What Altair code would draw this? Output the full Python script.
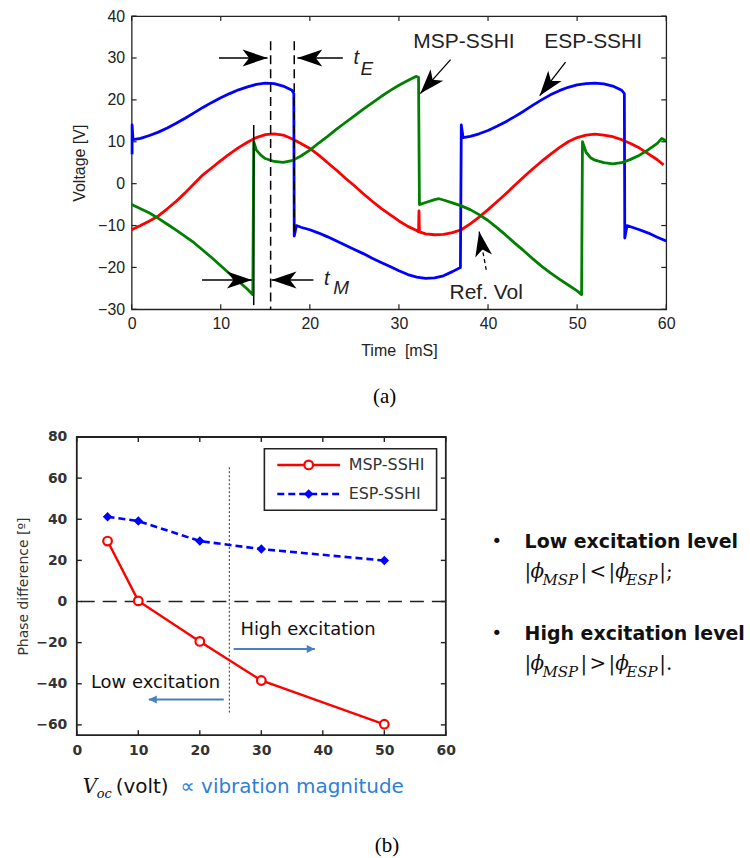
import math
import altair as alt
import pandas as pd

# ---------------- Panel (a): voltage waveforms ----------------
ESP_T = [0.05, 0.05, 0.15, 1, 2, 3, 4, 5, 6, 7, 8, 9, 10, 11, 12, 13, 14, 15, 16, 17, 18, 18.2,
         18.25, 18.5, 19, 20, 21, 22, 23, 24, 25, 26, 27, 28, 29, 30, 31, 32, 33, 34, 35, 36, 36.9,
         37.0, 37.2, 38, 39, 40, 41, 42, 43, 44, 45, 46, 47, 48, 49, 50, 51, 52, 53, 54, 55, 55.3,
         55.35, 55.6, 56, 57, 58, 59, 60]
ESP_V = [7, 14, 10.5, 10.8, 11.5, 12.3, 13.3, 14.4, 15.6, 16.9, 18.2, 19.4, 20.5, 21.5, 22.4, 23.1, 23.7, 24, 23.9, 23.3, 22.3, 21.5,
         -12.5, -10, -10.4, -11, -11.8, -12.7, -13.7, -14.7, -15.7, -16.7, -17.8, -18.8, -19.8, -20.8, -21.7, -22.3, -22.6, -22.5, -22, -21, -20,
         14, 11, 11.3, 11.9, 12.7, 13.7, 14.8, 16, 17.3, 18.7, 20, 21.2, 22.2, 23, 23.6, 23.9, 24, 23.8, 23.3, 22.3, 21.5,
         -13, -10, -10.3, -11, -11.8, -12.8, -13.7]

REF_T = [0, 1, 2, 3, 4, 5, 6, 7, 8, 9, 10, 11, 12, 13, 14, 15, 16, 17, 18, 19, 20, 21, 22, 23, 24, 25,
         26, 27, 28, 29, 30, 31, 32, 32.2, 32.25, 32.3, 33, 34, 35, 36, 37, 38, 39, 40, 41, 42, 43, 44,
         45, 46, 47, 48, 49, 50, 51, 52, 53, 54, 55, 56, 57, 58, 59, 59.7]
REF_V = [-11, -10, -8.9, -7.7, -6, -4.2, -2.2, 0, 2.1, 3.8, 5.5, 7.1, 8.6, 9.9, 11, 11.7, 11.9, 11.6, 10.7, 9.6, 8.4, 6.8, 5, 3.2, 1.3, -0.5,
         -2.4, -4.2, -5.9, -7.4, -8.9, -10.2, -11.2, -11.5, -6.5, -11.5, -12, -12.2, -12.1, -11.7, -11, -9.6, -8, -6.2, -4.3, -2.4, -0.4, 1.6,
         3.5, 5.3, 7, 8.6, 10, 11, 11.6, 11.8, 11.6, 11.2, 10.5, 9.6, 8.5, 7.1, 5.7, 4.5]

MSP_T = [0, 1, 2, 3, 4, 5, 6, 7, 8, 9, 10, 11, 12, 13, 13.6, 13.7, 14, 14.5, 15, 16, 17, 18, 19, 20, 21, 22,
         23, 24, 25, 26, 27, 28, 29, 30, 31, 31.9, 32.2, 32.3, 33, 34, 34.5, 35, 36, 37, 38, 39, 40, 41, 42,
         43, 44, 45, 46, 47, 48, 49, 50, 50.5, 50.6, 51, 51.5, 52, 53, 54, 55, 56, 57, 58, 59, 59.5, 60]
MSP_V = [-5, -6, -7, -8.3, -9.7, -11.1, -12.6, -14.1, -15.9, -17.7, -19.6, -21.5, -23.3, -25.2, -26.5, 10, 8, 6.8, 6, 5.3, 5.1, 5.5, 6.6, 8, 9.7, 11.3,
         13, 14.6, 16.2, 17.8, 19.3, 20.8, 22.2, 23.5, 24.6, 25.6, 25.4, -5, -4.5, -3.8, -3.6, -3.9, -4.6, -5.3, -6.2, -7.4, -8.8, -10.5, -12.3,
         -14.2, -16, -17.9, -19.7, -21.3, -22.8, -24.2, -25.6, -26.5, 10, 7.5, 6.2, 5.6, 5, 4.7, 5, 5.8, 6.8, 8.1, 9.6, 10.8, 10.2]

A_XTICKS = [0, 10, 20, 30, 40, 50, 60]
A_YTICKS = [-30, -20, -10, 0, 10, 20, 30, 40]

# ---------------- Panel (b): phase difference ----------------
SERIES_B = ["MSP-SSHI", "ESP-SSHI"]
VOC = [5, 10, 20, 30, 50]
PHASE_MSP = [29.4, 0.3, -19.4, -38.4, -59.7]
PHASE_ESP = [41.2, 39.1, 29.4, 25.5, 19.9]
B_XTICKS = [0, 10, 20, 30, 40, 50, 60]
B_YTICKS = [-60, -40, -20, 0, 20, 40, 60, 80]

# ---------------- layout ----------------
WA, HA = 536, 294
WB, HB = 370, 299
XA_DOM, YA_DOM = [0, 60], [-30, 40]
XB_DOM, YB_DOM = [0, 60], [-65, 80]
RED, BLUE, GREEN = "#ff0000", "#0000ff", "#008000"
INK = "#222222"
SANS = "Liberation Sans"
WIDE = "DejaVu Sans"
HEAD = "M0,0 L0.34,1 L0,0.74 L-0.34,1 Z"
SMALLHEAD = "M0,0 L0.5,1 L-0.5,1 Z"


def angle_of(x0, y0, x1, y1, sx, sy):
    dx = (x1 - x0) * sx
    dy = -(y1 - y0) * sy
    return (math.degrees(math.atan2(dx, -dy)) + 360) % 360


AXA_X = alt.Axis(values=A_XTICKS, title="Time\u00a0 [mS]", labelFont=SANS, labelFontSize=16,
                 labelColor=INK, titleFont=SANS, titleFontSize=16, titleFontWeight="normal",
                 titleColor=INK, ticks=False, tickSize=0, domain=False, grid=False,
                 labelPadding=6, titlePadding=11, labelFlush=False, labelOverlap=False)
AXA_Y = alt.Axis(values=A_YTICKS, title="Voltage [V]", labelFont=SANS, labelFontSize=16,
                 labelColor=INK, titleFont=SANS, titleFontSize=16, titleFontWeight="normal",
                 titleColor=INK, ticks=False, tickSize=0, domain=False, grid=False,
                 labelPadding=7, titlePadding=10, labelFlush=False, labelOverlap=False)


def xa(f="t"):
    return alt.X(f"{f}:Q", scale=alt.Scale(domain=XA_DOM, nice=False, zero=False), axis=AXA_X)


def ya(f="v"):
    return alt.Y(f"{f}:Q", scale=alt.Scale(domain=YA_DOM, nice=False, zero=False), axis=AXA_Y)


def wave(T, V, color):
    df = pd.DataFrame({"t": T, "v": V, "i": list(range(len(T)))})
    return alt.Chart(df).mark_line(color=color, strokeWidth=2.8, strokeJoin="round").encode(
        x=xa(), y=ya(), order="i:Q")


layers_a = [wave(REF_T, REF_V, RED), wave(ESP_T, ESP_V, BLUE), wave(MSP_T, MSP_V, GREEN)]

# guide lines (t_M / t_E markers)
g_solid = pd.DataFrame({"t": [13.7], "v": [14], "v2": [-29]})
g_dash = pd.DataFrame({"t": [15.6, 18.25], "v": [34, 34], "v2": [-30, -12.5]})
layers_a.append(alt.Chart(g_solid).mark_rule(color="black", strokeWidth=1.5).encode(
    x=xa(), y=ya(), y2="v2:Q"))
layers_a.append(alt.Chart(g_dash).mark_rule(color="black", strokeWidth=1.5, strokeDash=[9, 5]).encode(
    x=xa(), y=ya(), y2="v2:Q"))

# arrows
SXA, SYA = WA / 60, HA / 70
arr_a = pd.DataFrame({
    "t": [9.8, 23.7, 7.9, 20.4, 35.8, 48.7],
    "v": [30, 30, -23, -23, 29.6, 29],
    "t2": [15.25, 18.6, 13.5, 15.7, 32.4, 45.8],
    "v2": [30, 30, -23, -23, 21.5, 21],
})
arr_a_dash = pd.DataFrame({"t": [39.8], "v": [-20.6], "t2": [39.0], "v2": [-11.4]})
heads_a = pd.concat([arr_a, arr_a_dash], ignore_index=True)
heads_a["ang"] = [angle_of(r.t, r.v, r.t2, r.v2, SXA, SYA) for r in heads_a.itertuples()]
layers_a.append(alt.Chart(arr_a).mark_rule(color="black", strokeWidth=1.3).encode(
    x=xa(), y=ya(), x2="t2:Q", y2="v2:Q"))
layers_a.append(alt.Chart(arr_a_dash).mark_rule(color="black", strokeWidth=1.3, strokeDash=[4, 3]).encode(
    x=xa(), y=ya(), x2="t2:Q", y2="v2:Q"))
layers_a.append(alt.Chart(heads_a).mark_point(shape=HEAD, filled=True, size=2500, color="black",
                                              opacity=1, strokeWidth=0).encode(
    x=xa("t2"), y=ya("v2"), angle=alt.Angle("ang:Q", scale=None)))

# text labels
lab_a = pd.DataFrame({"t": [37.3, 51.8, 39.8], "v": [33.8, 33.8, -26.2],
                      "s": ["MSP-SSHI", "ESP-SSHI", "Ref. Vol"]})
layers_a.append(alt.Chart(lab_a).mark_text(font=SANS, fontSize=21, color=INK, baseline="middle").encode(
    x=xa(), y=ya(), text="s:N"))
it_a = pd.DataFrame({"t": [25.2, 21.9], "v": [29.9, -22.8], "s": ["t", "t"]})
sub_a = pd.DataFrame({"t": [26.4, 23.5], "v": [27.3, -25.0], "s": ["E", "M"]})
layers_a.append(alt.Chart(it_a).mark_text(font=SANS, fontSize=20, fontStyle="italic", color=INK,
                                          baseline="middle").encode(x=xa(), y=ya(), text="s:N"))
layers_a.append(alt.Chart(sub_a).mark_text(font=SANS, fontSize=19, fontStyle="italic", color=INK,
                                           baseline="middle").encode(x=xa(), y=ya(), text="s:N"))
cap_a = pd.DataFrame({"t": [28.4], "v": [-50.9], "s": ["(a)"]})
layers_a.append(alt.Chart(cap_a).mark_text(font="Liberation Serif", fontSize=21, color="black",
                                           baseline="middle").encode(x=xa(), y=ya(), text="s:N"))

# inward ticks
tx_a = pd.DataFrame({"t": A_XTICKS})
ty_a = pd.DataFrame({"v": A_YTICKS})
layers_a.append(alt.Chart(tx_a).mark_rule(color=INK, strokeWidth=1.2).encode(
    x=xa(), y=alt.value(HA), y2=alt.value(HA - 5)))
layers_a.append(alt.Chart(tx_a).mark_rule(color=INK, strokeWidth=1.2).encode(
    x=xa(), y=alt.value(0), y2=alt.value(5)))
layers_a.append(alt.Chart(ty_a).mark_rule(color=INK, strokeWidth=1.2).encode(
    y=ya(), x=alt.value(0), x2=alt.value(5)))
layers_a.append(alt.Chart(ty_a).mark_rule(color=INK, strokeWidth=1.2).encode(
    y=ya(), x=alt.value(WA), x2=alt.value(WA - 5)))

chart_a = alt.layer(*layers_a).properties(
    width=WA, height=HA, view=alt.ViewBackground(stroke=INK, strokeWidth=1.3))

# ---------------- panel (b) ----------------
AXB_X = alt.Axis(values=B_XTICKS, title=None, labelFont=WIDE, labelFontSize=14, labelFontWeight="bold",
                 labelColor="#333333", ticks=False, tickSize=0, domain=False, grid=False,
                 labelPadding=8, labelFlush=False, labelOverlap=False)
AXB_Y = alt.Axis(values=B_YTICKS, title="Phase difference [º]", labelFont=WIDE, labelFontSize=14,
                 labelFontWeight="bold", labelColor="#333333", titleFont=WIDE, titleFontSize=14,
                 titleFontWeight="normal", titleColor="#333333", ticks=False, tickSize=0, domain=False,
                 grid=False, labelPadding=10, titlePadding=5, labelFlush=False, labelOverlap=False)


def xb(f="x"):
    return alt.X(f"{f}:Q", scale=alt.Scale(domain=XB_DOM, nice=False, zero=False), axis=AXB_X)


def yb(f="y"):
    return alt.Y(f"{f}:Q", scale=alt.Scale(domain=YB_DOM, nice=False, zero=False), axis=AXB_Y)


SXB, SYB = WB / 60, HB / 145


def px_to_xb(px):
    return (px - 76) / SXB


def px_to_yb(py):
    return (600 - py) / SYB


layers_b = []
layers_b.append(alt.Chart(pd.DataFrame({"y": [0]})).mark_rule(color=INK, strokeWidth=1.5,
                                                             strokeDash=[14, 8]).encode(y=yb()))
layers_b.append(alt.Chart(pd.DataFrame({"x": [24.8], "y": [-54], "y2": [65.4]})).mark_rule(
    color="#333333", strokeWidth=1, strokeDash=[2, 2]).encode(x=xb(), y=yb(), y2="y2:Q"))

msp_df = pd.DataFrame({"x": VOC, "y": PHASE_MSP})
esp_df = pd.DataFrame({"x": VOC, "y": PHASE_ESP})
layers_b.append(alt.Chart(esp_df).mark_line(color=BLUE, strokeWidth=2.6, strokeDash=[7, 4]).encode(x=xb(), y=yb()))
layers_b.append(alt.Chart(msp_df).mark_line(color=RED, strokeWidth=2.4).encode(x=xb(), y=yb()))
layers_b.append(alt.Chart(esp_df).mark_point(shape="diamond", filled=True, size=90, color=BLUE,
                                             opacity=1).encode(x=xb(), y=yb()))
layers_b.append(alt.Chart(msp_df).mark_point(shape="circle", filled=True, size=75, fill="white",
                                             stroke=RED, strokeWidth=2.2, opacity=1).encode(x=xb(), y=yb()))

# blue excitation arrows
ARROW_BLUE = "#4a7fc0"
arr_b = pd.DataFrame({"x": [25.5, 23.9], "y": [-23.1, -47.6], "x2": [38.7, 11.7], "y2": [-23.1, -47.6]})
arr_b["ang"] = [angle_of(r.x, r.y, r.x2, r.y2, SXB, SYB) for r in arr_b.itertuples()]
layers_b.append(alt.Chart(arr_b).mark_rule(color=ARROW_BLUE, strokeWidth=2).encode(
    x=xb(), y=yb(), x2="x2:Q", y2="y2:Q"))
layers_b.append(alt.Chart(arr_b).mark_point(shape=SMALLHEAD, filled=True, size=260, color=ARROW_BLUE,
                                            opacity=1, strokeWidth=0).encode(
    x=xb("x2"), y=yb("y2"), angle=alt.Angle("ang:Q", scale=None)))
exc = pd.DataFrame({"x": [26.6, 2.3], "y": [-14.0, -39.6], "s": ["High excitation", "Low excitation"]})
layers_b.append(alt.Chart(exc).mark_text(font=WIDE, fontSize=18, color="#111111", align="left",
                                         baseline="middle").encode(x=xb(), y=yb(), text="s:N"))

# legend box
leg_box = pd.DataFrame({"x": [30.5], "x2": [58.5], "y": [44.4], "y2": [74.3]})
layers_b.append(alt.Chart(leg_box).mark_rect(fill="white", stroke=INK, strokeWidth=1.6).encode(
    x=xb(), x2="x2:Q", y=yb(), y2="y2:Q"))
leg_rows = pd.DataFrame({"s": SERIES_B, "x": [32.6, 32.6], "x2": [42.8, 42.8], "y": [66.4, 52.3],
                         "xm": [37.7, 37.7], "xl": [44.2, 44.2]})
layers_b.append(alt.Chart(leg_rows[leg_rows.s == "MSP-SSHI"]).mark_rule(color=RED, strokeWidth=2.4).encode(
    x=xb(), x2="x2:Q", y=yb()))
layers_b.append(alt.Chart(leg_rows[leg_rows.s == "ESP-SSHI"]).mark_rule(color=BLUE, strokeWidth=2.6,
                                                                      strokeDash=[7, 4]).encode(
    x=xb(), x2="x2:Q", y=yb()))
layers_b.append(alt.Chart(leg_rows[leg_rows.s == "ESP-SSHI"]).mark_point(shape="diamond", filled=True, size=90,
                                                                       color=BLUE, opacity=1).encode(
    x=xb("xm"), y=yb()))
layers_b.append(alt.Chart(leg_rows[leg_rows.s == "MSP-SSHI"]).mark_point(shape="circle", filled=True, size=75,
                                                                       fill="white", stroke=RED, strokeWidth=2.2,
                                                                       opacity=1).encode(
    x=xb("xm"), y=yb()))
layers_b.append(alt.Chart(leg_rows).mark_text(font=WIDE, fontSize=16, color="#333333", align="left",
                                              baseline="middle").encode(x=xb("xl"), y=yb(), text="s:N"))

# right-hand notes
bul = pd.DataFrame({"x": [px_to_xb(497)] * 2, "y": [px_to_yb(540), px_to_yb(633)], "s": ["•", "•"]})
layers_b.append(alt.Chart(bul).mark_text(font=WIDE, fontSize=18, color="#111111", baseline="middle").encode(
    x=xb(), y=yb(), text="s:N"))
heads_txt = pd.DataFrame({"x": [px_to_xb(525)] * 2, "y": [px_to_yb(540), px_to_yb(633)],
                          "s": ["Low excitation level", "High excitation level"]})
layers_b.append(alt.Chart(heads_txt).mark_text(font=WIDE, fontSize=19, fontWeight="bold", color="#111111",
                                               align="left", baseline="middle").encode(x=xb(), y=yb(), text="s:N"))

up_px = [525, 581, 590, 609, 660]
main_rows = []
for line_y, rel, end in [(570, "<", "|;"), (663, ">", "|.")]:
    for px, s in zip(up_px, ["|", "|", rel, "|", end]):
        main_rows.append({"x": px_to_xb(px), "y": px_to_yb(line_y), "s": s})
up_df = pd.DataFrame(main_rows)
phi_df = pd.DataFrame([{"x": px_to_xb(px), "y": px_to_yb(ly), "s": "ϕ"} for ly in (570, 663) for px in (531, 616)])
sub_df = pd.DataFrame([{"x": px_to_xb(px), "y": px_to_yb(ly + 8), "s": s}
                       for ly in (570, 663) for px, s in ((543, "MSP"), (627, "ESP"))])
layers_b.append(alt.Chart(up_df).mark_text(font="DejaVu Serif", fontSize=20, color="#111111", align="left",
                                           baseline="middle").encode(x=xb(), y=yb(), text="s:N"))
layers_b.append(alt.Chart(phi_df).mark_text(font="DejaVu Serif", fontSize=20, fontStyle="italic", color="#111111",
                                            align="left", baseline="middle").encode(x=xb(), y=yb(), text="s:N"))
layers_b.append(alt.Chart(sub_df).mark_text(font="DejaVu Serif", fontSize=15, fontStyle="italic", color="#111111",
                                            align="left", baseline="middle").encode(x=xb(), y=yb(), text="s:N"))

# x label and caption
vx = pd.DataFrame({"x": [px_to_xb(82)], "y": [px_to_yb(786)], "s": ["V"]})
vsub = pd.DataFrame({"x": [px_to_xb(96)], "y": [px_to_yb(793)], "s": ["oc"]})
volt = pd.DataFrame({"x": [px_to_xb(115)], "y": [px_to_yb(786)], "s": ["(volt)"]})
vib = pd.DataFrame({"x": [px_to_xb(180)], "y": [px_to_yb(786)], "s": ["∝ vibration magnitude"]})
capb = pd.DataFrame({"x": [px_to_xb(387)], "y": [px_to_yb(845)], "s": ["(b)"]})
layers_b.append(alt.Chart(vx).mark_text(font="DejaVu Serif", fontSize=20, fontStyle="italic", color="#111111",
                                        align="left", baseline="middle").encode(x=xb(), y=yb(), text="s:N"))
layers_b.append(alt.Chart(vsub).mark_text(font="DejaVu Serif", fontSize=13, fontStyle="italic", color="#111111",
                                          align="left", baseline="middle").encode(x=xb(), y=yb(), text="s:N"))
layers_b.append(alt.Chart(volt).mark_text(font=WIDE, fontSize=20, color="#111111", align="left",
                                          baseline="middle").encode(x=xb(), y=yb(), text="s:N"))
layers_b.append(alt.Chart(vib).mark_text(font=WIDE, fontSize=20, color="#2e7fd6", align="left",
                                         baseline="middle").encode(x=xb(), y=yb(), text="s:N"))
layers_b.append(alt.Chart(capb).mark_text(font="Liberation Serif", fontSize=21, color="black",
                                          baseline="middle").encode(x=xb(), y=yb(), text="s:N"))

# inward ticks
tx_b = pd.DataFrame({"x": B_XTICKS})
ty_b = pd.DataFrame({"y": B_YTICKS})
layers_b.append(alt.Chart(tx_b).mark_rule(color=INK, strokeWidth=1.4).encode(
    x=xb(), y=alt.value(HB), y2=alt.value(HB - 5)))
layers_b.append(alt.Chart(tx_b).mark_rule(color=INK, strokeWidth=1.4).encode(
    x=xb(), y=alt.value(0), y2=alt.value(5)))
layers_b.append(alt.Chart(ty_b).mark_rule(color=INK, strokeWidth=1.4).encode(
    y=yb(), x=alt.value(0), x2=alt.value(5)))
layers_b.append(alt.Chart(ty_b).mark_rule(color=INK, strokeWidth=1.4).encode(
    y=yb(), x=alt.value(WB), x2=alt.value(WB - 5)))

chart_b = alt.layer(*layers_b).properties(
    width=WB, height=HB, view=alt.ViewBackground(stroke=INK, strokeWidth=1.8))

spacer = alt.Chart(pd.DataFrame({"a": [0]})).mark_point(opacity=0).encode(
    x=alt.X("a:Q", axis=None), y=alt.Y("a:Q", axis=None)).properties(
    width=55, height=HA, view=alt.ViewBackground(stroke="transparent"))

top = alt.hconcat(spacer, chart_a, spacing=0, bounds="flush")
chart = alt.vconcat(top, chart_b, spacing=21).properties(
    padding={"left": 15, "top": 6, "right": 4, "bottom": 3},
    background="white",
).configure_view(stroke="transparent")

chart.save("out.html", embed_options={"renderer": "svg", "actions": False})
